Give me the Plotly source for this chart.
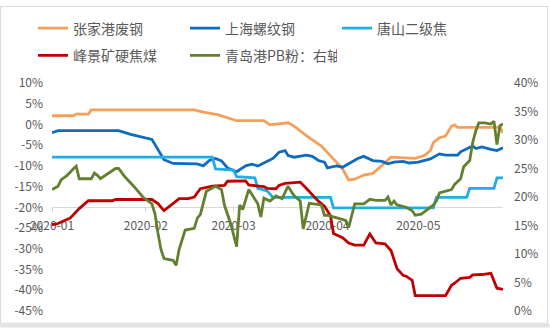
import plotly.graph_objects as go

# ---- series (left axis, %) ----
zjg_dates = ["2020-01-01", "2020-01-08", "2020-01-09", "2020-01-13", "2020-01-14", "2020-02-17",
             "2020-02-20", "2020-02-25", "2020-03-02", "2020-03-11", "2020-03-13", "2020-03-19",
             "2020-03-21", "2020-03-25", "2020-03-30", "2020-04-02", "2020-04-06", "2020-04-08",
             "2020-04-10", "2020-04-13", "2020-04-16", "2020-04-19", "2020-04-22", "2020-04-30",
             "2020-05-03", "2020-05-05", "2020-05-06", "2020-05-08", "2020-05-10", "2020-05-12",
             "2020-05-13", "2020-05-14", "2020-05-28", "2020-05-29"]
zjg_scrap = [2.1, 2.1, 2.5, 2.5, 3.5, 3.5, 3.0, 2.3, 0.9, 0.9, -0.1, 0.4, -0.4, -2.7, -5.2, -7.5,
             -10.7, -13.4, -13.2, -12.2, -11.8, -9.9, -7.9, -8.2, -7.5, -6.3, -4.4, -3.2, -2.8,
             -0.4, -0.1, -0.7, -0.7, -2.0]

sh_dates = ["2020-01-01", "2020-01-03", "2020-01-23", "2020-01-27", "2020-02-03", "2020-02-05",
            "2020-02-07", "2020-02-10", "2020-02-18", "2020-02-20", "2020-02-22", "2020-02-24",
            "2020-02-26", "2020-02-28", "2020-03-02", "2020-03-05", "2020-03-07", "2020-03-09",
            "2020-03-12", "2020-03-14", "2020-03-16", "2020-03-18", "2020-03-19", "2020-03-21",
            "2020-03-25", "2020-03-27", "2020-03-29", "2020-03-31", "2020-04-01", "2020-04-04",
            "2020-04-06", "2020-04-09", "2020-04-11", "2020-04-13", "2020-04-16", "2020-04-19",
            "2020-04-21", "2020-04-23", "2020-04-26", "2020-04-28", "2020-05-01", "2020-05-05",
            "2020-05-08", "2020-05-10", "2020-05-14", "2020-05-15", "2020-05-19", "2020-05-20",
            "2020-05-22", "2020-05-25", "2020-05-27", "2020-05-29"]
sh_rebar = [-2.0, -1.5, -1.5, -2.4, -3.6, -6.0, -8.5, -9.4, -9.5, -10.0, -8.7, -8.2, -8.8, -10.5,
            -11.4, -10.0, -9.6, -10.0, -8.8, -8.2, -6.7, -6.3, -7.5, -7.9, -7.4, -7.7, -8.7, -9.1,
            -10.5, -10.0, -10.3, -9.1, -8.2, -7.7, -8.7, -8.9, -9.5, -9.1, -8.9, -9.3, -9.1, -8.3,
            -7.1, -7.4, -7.4, -6.6, -5.2, -5.8, -5.4, -6.0, -6.3, -5.6]

ts_dates = ["2020-01-01", "2020-02-23", "2020-02-24", "2020-03-01", "2020-03-02", "2020-03-08",
            "2020-03-09", "2020-03-12", "2020-03-14", "2020-04-02", "2020-04-03", "2020-05-06",
            "2020-05-07", "2020-05-17", "2020-05-18", "2020-05-26", "2020-05-27", "2020-05-29"]
ts_coke = [-7.9, -7.9, -10.7, -11.0, -12.6, -12.9, -15.4, -16.0, -17.6, -17.6, -20.1, -20.1,
           -17.6, -17.6, -15.4, -15.4, -12.9, -12.9]

fj_dates = ["2020-01-01", "2020-01-03", "2020-01-07", "2020-01-10", "2020-01-13", "2020-01-21",
            "2020-01-22", "2020-02-03", "2020-02-05", "2020-02-07", "2020-02-11", "2020-02-12",
            "2020-02-15", "2020-02-17", "2020-02-19", "2020-02-21", "2020-02-23", "2020-02-27",
            "2020-02-28", "2020-03-05", "2020-03-06", "2020-03-11", "2020-03-12", "2020-03-15",
            "2020-03-16", "2020-03-18", "2020-03-23", "2020-03-25", "2020-03-27", "2020-03-29",
            "2020-03-31", "2020-04-02", "2020-04-03", "2020-04-06", "2020-04-08", "2020-04-10",
            "2020-04-13", "2020-04-15", "2020-04-17", "2020-04-20", "2020-04-22", "2020-04-24",
            "2020-04-26", "2020-04-27", "2020-04-29", "2020-04-30", "2020-05-10", "2020-05-12",
            "2020-05-13", "2020-05-15", "2020-05-18", "2020-05-19", "2020-05-22", "2020-05-25",
            "2020-05-27", "2020-05-29"]
fj_coal = [-24.2, -23.9, -22.6, -20.3, -18.4, -18.4, -18.1, -18.1, -19.1, -20.8, -18.5, -17.9,
           -17.9, -17.5, -15.5, -15.2, -14.9, -14.7, -13.7, -13.6, -14.6, -15.0, -15.4, -15.5,
           -14.7, -14.2, -13.9, -15.4, -16.9, -18.5, -19.7, -22.0, -26.3, -27.3, -28.6, -29.1,
           -29.1, -26.4, -28.6, -28.8, -30.4, -34.8, -36.4, -36.6, -37.6, -41.3, -41.3, -38.8,
           -38.3, -37.1, -36.9, -36.3, -36.2, -35.9, -39.5, -39.8]

# ---- series (right axis, %) ----
pb_dates = ["2020-01-01", "2020-01-03", "2020-01-04", "2020-01-06", "2020-01-08", "2020-01-09",
            "2020-01-10", "2020-01-14", "2020-01-15", "2020-01-16", "2020-01-17", "2020-01-19",
            "2020-01-22", "2020-01-23", "2020-01-25", "2020-01-28", "2020-01-31", "2020-02-03",
            "2020-02-04", "2020-02-05", "2020-02-06", "2020-02-07", "2020-02-10", "2020-02-11",
            "2020-02-12", "2020-02-14", "2020-02-17", "2020-02-18", "2020-02-19", "2020-02-21",
            "2020-02-23", "2020-02-24", "2020-02-26", "2020-02-27", "2020-02-29", "2020-03-02",
            "2020-03-03", "2020-03-04", "2020-03-06", "2020-03-08", "2020-03-09", "2020-03-10",
            "2020-03-11", "2020-03-13", "2020-03-15", "2020-03-17", "2020-03-19", "2020-03-20",
            "2020-03-21", "2020-03-23", "2020-03-24", "2020-03-26", "2020-03-27", "2020-03-30",
            "2020-03-31", "2020-04-01", "2020-04-03", "2020-04-05", "2020-04-07", "2020-04-08",
            "2020-04-10", "2020-04-13", "2020-04-15", "2020-04-17", "2020-04-20", "2020-04-21",
            "2020-04-22", "2020-04-23", "2020-04-24", "2020-04-27", "2020-04-29", "2020-04-30",
            "2020-05-02", "2020-05-06", "2020-05-07", "2020-05-08", "2020-05-10", "2020-05-12",
            "2020-05-13", "2020-05-14", "2020-05-15", "2020-05-16", "2020-05-18", "2020-05-19",
            "2020-05-20", "2020-05-21", "2020-05-23", "2020-05-25", "2020-05-26", "2020-05-27",
            "2020-05-28", "2020-05-29"]
pb_fines = [21.3, 21.9, 23.0, 23.8, 24.9, 25.4, 23.2, 23.2, 24.2, 23.8, 23.2, 23.9, 25.0, 25.0,
            23.6, 21.9, 20.0, 18.8, 17.1, 13.7, 10.8, 9.2, 8.9, 8.0, 10.8, 14.2, 14.5, 16.3, 16.9,
            21.0, 21.6, 21.9, 21.3, 18.5, 15.4, 11.3, 18.6, 17.8, 21.3, 19.6, 18.8, 16.5, 19.8,
            19.3, 20.2, 19.7, 21.9, 21.0, 20.2, 19.3, 14.4, 18.9, 18.8, 18.6, 16.8, 16.8, 16.5,
            16.2, 15.9, 14.6, 18.8, 18.8, 19.6, 19.4, 19.4, 20.0, 18.6, 19.3, 18.6, 18.2, 17.6,
            16.8, 17.0, 18.6, 19.3, 20.7, 21.0, 21.3, 22.2, 22.7, 23.2, 25.3, 26.4, 29.6, 31.6,
            33.0, 33.0, 32.8, 33.3, 29.2, 32.5, 32.8]

# ---- axis ticks ----
left_tickvals = [10, 5, 0, -5, -10, -15, -20, -25, -30, -35, -40, -45]
left_ticktext = ["10%", "5%", "0%", "-5%", "-10%", "-15%", "-20%", "-25%", "-30%", "-35%",
                 "-40%", "-45%"]
right_tickvals = [0, 5, 10, 15, 20, 25, 30, 35, 40]
right_ticktext = ["0%", "5%", "10%", "15%", "20%", "25%", "30%", "35%", "40%"]
month_ticks = ["2020-01-01", "2020-02-01", "2020-03-01", "2020-04-01", "2020-05-01"]
month_labels = ["2020-01", "2020-02", "2020-03", "2020-04", "2020-05"]

# ---- page geometry ----
W, H = 550, 330
ML, MR, MT, MB = 52, 47, 79, 17
PW, PH = W - ML - MR, H - MT - MB
LEFT_RANGE = [-45, 10]
CROSS_AT = -20  # horizontal axis crosses the left axis here


def paper_x(px):
    return (px - ML) / PW


def paper_y(py):
    return (H - MB - py) / PH


GREY = "#595959"
FONT = "Noto Sans CJK SC"
LW = 2.8

fig = go.Figure()
fig.add_trace(go.Scatter(x=zjg_dates, y=zjg_scrap, name="张家港废钢", mode="lines",
                         line=dict(color="#F4A05C", width=LW), legend="legend"))
fig.add_trace(go.Scatter(x=sh_dates, y=sh_rebar, name="上海螺纹钢", mode="lines",
                         line=dict(color="#0E6BBE", width=LW), legend="legend"))
fig.add_trace(go.Scatter(x=ts_dates, y=ts_coke, name="唐山二级焦", mode="lines",
                         line=dict(color="#1FAEE6", width=LW), legend="legend"))
fig.add_trace(go.Scatter(x=fj_dates, y=fj_coal, name="峰景矿硬焦煤", mode="lines",
                         line=dict(color="#C00000", width=LW), legend="legend2"))
fig.add_trace(go.Scatter(x=pb_dates, y=pb_fines, name="青岛港PB粉：右轴", mode="lines",
                         line=dict(color="#62802F", width=LW), yaxis="y2", legend="legend2"))

legend_common = dict(orientation="h", xanchor="left", yanchor="middle",
                     font=dict(family=FONT, size=14, color=GREY),
                     entrywidth=107, entrywidthmode="pixels", itemwidth=30,
                     bgcolor="rgba(0,0,0,0)", borderwidth=0, traceorder="normal")

fig.update_layout(
    width=W, height=H,
    margin=dict(l=ML, r=MR, t=MT, b=MB),
    paper_bgcolor="white", plot_bgcolor="white",
    font=dict(family=FONT, size=12, color=GREY),
    showlegend=True,
    legend=dict(x=paper_x(33), y=paper_y(23), **legend_common),
    legend2=dict(x=paper_x(33), y=paper_y(51), **legend_common),
    xaxis=dict(
        type="date", range=["2020-01-01", "2020-05-29"],
        tickvals=month_ticks, ticktext=month_labels,
        showgrid=False, zeroline=False,
        showline=True, linecolor="#D9D9D9", linewidth=1,
        ticks="outside", ticklen=4, tickcolor="#D9D9D9",
        tickfont=dict(family=FONT, size=12, color=GREY), ticklabelstandoff=3,
        anchor="free",
        position=(CROSS_AT - LEFT_RANGE[0]) / (LEFT_RANGE[1] - LEFT_RANGE[0]),
        layer="below traces",
    ),
    yaxis=dict(
        range=LEFT_RANGE, tickvals=left_tickvals, ticktext=left_ticktext,
        showgrid=False, zeroline=False, showline=False, ticks="",
        tickfont=dict(family=FONT, size=12, color=GREY), ticklabelstandoff=8,
    ),
    yaxis2=dict(
        range=[0, 40], tickvals=right_tickvals, ticktext=right_ticktext,
        overlaying="y", side="right",
        showgrid=False, zeroline=False, showline=False, ticks="",
        tickfont=dict(family=FONT, size=12, color=GREY), ticklabelstandoff=10,
    ),
    shapes=[
        dict(type="rect", xref="paper", yref="paper", layer="below",
             x0=paper_x(0.5), x1=paper_x(547.5), y0=paper_y(325.5), y1=paper_y(0.5),
             line=dict(color="#D9D9D9", width=1), fillcolor="rgba(0,0,0,0)"),
        dict(type="rect", xref="paper", yref="paper", layer="below",
             x0=paper_x(0), x1=paper_x(550), y0=paper_y(330), y1=paper_y(326),
             line=dict(width=0), fillcolor="#E3E3E3"),
    ],
)

fig.write_html("out.html")
